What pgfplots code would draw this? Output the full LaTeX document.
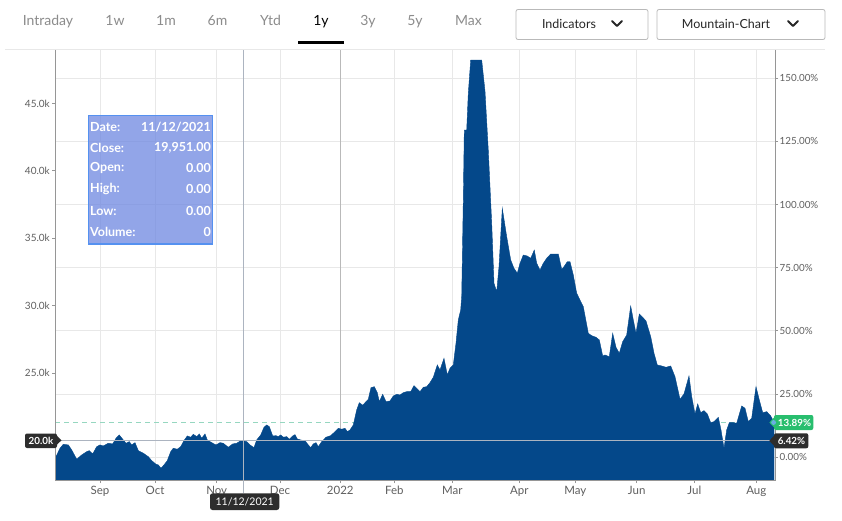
\documentclass[border=0pt]{standalone}
\usepackage{pgfplots}
\pgfplotsset{compat=1.18}
\usepackage{fontspec}
\setmainfont{Lato}
\definecolor{areablue}{RGB}{4,72,138}
\definecolor{gridgray}{RGB}{232,232,232}
\definecolor{axisgray}{RGB}{150,150,150}
\definecolor{ticktext}{RGB}{95,95,95}
\definecolor{labeldark}{RGB}{45,45,45}
\definecolor{greenlab}{RGB}{40,190,110}
\definecolor{dashmint}{RGB}{150,215,192}
\definecolor{tipfill}{RGB}{110,135,225}
\definecolor{tipborder}{RGB}{85,145,240}
\definecolor{navgray}{RGB}{140,140,140}
\definecolor{cross}{RGB}{172,180,192}
\begin{document}
\begin{tikzpicture}
\fill[white] (0,0) rectangle (842bp,-521bp);
% percent axis: horizontal grid + right ticks
\begin{axis}[at={(55bp,-480bp)}, anchor=south west, scale only axis,
  width=720bp, height=430bp,
  xmin=55, xmax=775, ymin=-9.052, ymax=161.16,
  axis line style={draw=none}, xtick=\empty,
  scaled ticks=false,
  ytick={0,25,50,75,100,125,150},
  yticklabels={0.00\%,25.00\%,50.00\%,75.00\%,100.00\%,125.00\%,150.00\%},
  ytick pos=right, yticklabel pos=right,
  ymajorgrids, grid style={gridgray, line width=0.7bp},
  major tick length=3bp, tick align=outside,
  tick style={axisgray, line width=0.7bp},
  yticklabel style={font=\fontsize{9.8bp}{11bp}\selectfont, text=ticktext, inner sep=1.5bp},
]
\end{axis}
% main axis
\begin{axis}[at={(55bp,-480bp)}, anchor=south west, scale only axis,
  width=720bp, height=430bp,
  xmin=55, xmax=775, ymin=17050, ymax=48960,
  axis line style={draw=none},
  scaled ticks=false,
  xtick={100,155,216.7,280,340.3,394.3,452.3,519.3,575.3,636.7,694.3,756.3},
  xticklabels={Sep,Oct,Nov,Dec,2022,Feb,Mar,Apr,May,Jun,Jul,Aug},
  ytick={20000,25000,30000,35000,40000,45000},
  yticklabels={{},25.0k,30.0k,35.0k,40.0k,45.0k},
  tick pos=left,
  xmajorgrids, grid style={gridgray, line width=0.7bp},
  major tick length=3bp, tick align=outside,
  tick style={axisgray, line width=0.7bp},
  yticklabel style={font=\fontsize{10bp}{11bp}\selectfont, text=ticktext, inner sep=2bp},
  xticklabel style={font=\fontsize{11.5bp}{13bp}\selectfont, text=ticktext},
]
\addplot[draw=gray!55, line width=0.8bp, forget plot] coordinates {(340.3,17050) (340.3,48960)};
\addplot[draw=dashmint, line width=1bp, dash pattern=on 5bp off 4bp, forget plot] coordinates {(55,21351) (775,21351)};
\addplot[fill=areablue, draw=areablue, line width=0.4bp] coordinates {
(55,18687) (56,18783) (60,19407) (63.3,19703) (68.3,19651) (71.7,19280) (76.7,18591) (81.7,18910) (86.7,19154) (89.3,19229) (92.7,18984) (96.7,19525) (100,19651) (103.3,19577) (108.3,19777) (112.7,19726) (116,20148) (119.3,20393) (122.7,20074) (126,19777) (129.3,19896) (131.7,19651) (135,19822) (138.3,19229) (143.3,19036) (148.3,18783) (151.7,18487) (156,18220) (158.3,18168) (161,17923) (164,18168) (167.3,18487) (170.7,19154) (173.3,19407) (177.3,19332) (180.7,19525) (184,19970) (187.3,20319) (190.7,20223) (193.3,20445) (196.7,20267) (199.3,20467) (201.7,20148) (205,20467) (207.3,20022) (211.7,19822) (216,19651) (220,19822) (223.3,19777) (228.3,19481) (232.7,19726) (236.7,19777) (240.7,19970) (243.3,19951) (246.7,19896) (250,19651) (254,19451) (256.7,20022) (260.7,20393) (264,20964) (266.7,21135) (269.3,21009) (272.7,20319) (276,20341) (278.3,20267) (280.7,20393) (283.3,20223) (286.7,20267) (289.3,20074) (292.7,20319) (295,20415) (297.3,20096) (300.7,20022) (305,19970) (308.3,19651) (310.7,19451) (313.3,19726) (316,19822) (318.3,19525) (321.7,19896) (326,20223) (330.7,20341) (335,20638) (338.3,20890) (341.7,20816) (345,20890) (347.3,20638) (350,20764) (353.3,21135) (356.7,22248) (359.3,22789) (362.7,22596) (366,22863) (368.3,23041) (371,23902) (374.3,23976) (377.3,23531) (379.3,22863) (382.7,23412) (386,22863) (390,22915) (393.3,23286) (396.7,23412) (400,23360) (403.3,23531) (406.7,23605) (410.7,23605) (414,24050) (416.7,23857) (420,23605) (423.3,23932) (426.7,23976) (430,24273) (433.3,24673) (437.3,25586) (440,25215) (444,26083) (447.3,24844) (450,25341) (453.3,25586) (456,27195) (458.3,28924) (460.7,29666) (461.7,30652) (463.3,37826) (464.3,43018) (466.7,43018) (468.3,45740) (470.7,48211) (481.7,48211) (485,45900) (488.3,41500) (491.7,36097) (494,31646) (496.7,31023) (499,32878) (502.3,37210) (506.7,35103) (510.7,33375) (514,32759) (517.3,32388) (520,33130) (523.3,33746) (527.3,33671) (530.7,33501) (534.3,34116) (536.7,33130) (540,32633) (543.3,33130) (546.7,33501) (550.7,33820) (555,33820) (558.3,33820) (561.7,32685) (564,32878) (567.3,33249) (570,33249) (573.3,32262) (576.7,30904) (580,30408) (583.3,29910) (588.3,27937) (591.7,27759) (596,27641) (599.3,27440) (602.7,26253) (605,26328) (609.3,26201) (612.7,27937) (616,26899) (619.3,26454) (622.7,27314) (626.7,27811) (630.7,29962) (633.3,28924) (636,27937) (639.3,29369) (642.7,29124) (646,28850) (650.7,27685) (654,26454) (657.3,25586) (661.7,25512) (666,25415) (670.7,25512) (675,24718) (680,23041) (684,23435) (689,24770) (691.7,23234) (695,21951) (697.7,22693) (700.7,22047) (704,22196) (707.3,21951) (710.7,21306) (714,21380) (718.3,21706) (721,20764) (724,19407) (726.7,20764) (729.3,21306) (733.3,21306) (736.7,21261) (741.7,22544) (745,22374) (748.3,21380) (751.7,21632) (756,23976) (759.3,22989) (762.7,22047) (766.7,22122) (770.7,21803) (774,21351)
} \closedcycle;
\end{axis}
\begin{scope}[x=1bp,y=-1bp]
% top separator
\draw[gridgray, line width=0.8] (5,49.3) -- (825,49.3);
% axis lines
\draw[axisgray, line width=0.8] (55,50) -- (55,480) -- (775,480) -- (775,50);
% crosshair
\draw[cross, line width=0.8] (243.3,50) -- (243.3,493);
\draw[cross, line width=0.8] (57,440.3) -- (775,440.3);
% toolbar
\begin{scope}[every node/.style={anchor=base, font=\fontsize{14bp}{16bp}\selectfont, text=navgray, inner sep=0pt}]
\node at (48,25) {Intraday};
\node at (115,25) {1w};
\node at (166,25) {1m};
\node at (217.5,25) {6m};
\node at (270.5,25) {Ytd};
\node[text=black] at (321,25) {1y};
\node at (368,25) {3y};
\node at (415,25) {5y};
\node at (468.5,25) {Max};
\end{scope}
\fill[black] (297.5,41) rectangle (343.5,43.5);
\draw[gray!55, line width=0.8, rounded corners=2] (516,9.5) rectangle (648,39.5);
\draw[gray!55, line width=0.8, rounded corners=2] (657,9.5) rectangle (825,39.5);
\node[anchor=base, font=\fontsize{12.5bp}{14bp}\selectfont, text=black!85, inner sep=0pt] at (569,28.8) {Indicators};
\node[anchor=base, font=\fontsize{12.5bp}{14bp}\selectfont, text=black!85, inner sep=0pt] at (726,28.8) {Mountain-Chart};
\draw[black!85, line width=2, line cap=round, line join=round] (612,21) -- (617,26) -- (622,21);
\draw[black!85, line width=2, line cap=round, line join=round] (788,21) -- (793,26) -- (798,21);
% tooltip
\fill[tipfill, fill opacity=0.75] (88.3,115.3) rectangle (212.7,244);
\draw[tipborder, line width=1.4] (88.3,115.3) rectangle (212.7,244);
\begin{scope}[every node/.style={font=\bfseries\fontsize{12.5bp}{14bp}\selectfont, text=white, inner sep=0pt}]
\node[anchor=west] at (90,126.7) {Date:};
\node[anchor=east] at (211,126.7) {11/12/2021};
\node[anchor=west] at (90,147.7) {Close:};
\node[anchor=east] at (211,147.7) {19,951.00};
\node[anchor=west] at (90,168.3) {Open:};
\node[anchor=east] at (211,168.3) {0.00};
\node[anchor=west] at (90,189.3) {High:};
\node[anchor=east] at (211,189.3) {0.00};
\node[anchor=west] at (90,210.7) {Low:};
\node[anchor=east] at (211,210.7) {0.00};
\node[anchor=west] at (90,231.7) {Volume:};
\node[anchor=east] at (211,231.7) {0};
\end{scope}
% left value label
\fill[labeldark, rounded corners=2] (25,433.5) rectangle (57,448);
\fill[labeldark] (56,435) -- (61.5,440.3) -- (56,445.6) -- cycle;
\node[font=\bfseries\fontsize{9.8bp}{11bp}\selectfont, text=white, inner sep=0pt] at (41,440.8) {20.0k};
% right labels
\fill[greenlab, rounded corners=2] (774,415) rectangle (813.3,430);
\fill[greenlab] (775,416.5) -- (769.3,422.5) -- (775,428.5) -- cycle;
\fill[cyan!70!blue!60] (773.6,422.5) circle (2.4);
\node[font=\bfseries\fontsize{9.8bp}{11bp}\selectfont, text=white, inner sep=0pt] at (794.5,423) {13.89\%};
\fill[labeldark, rounded corners=2] (774,433.3) rectangle (808.3,448.3);
\fill[labeldark] (775,434.8) -- (769.3,440.8) -- (775,446.8) -- cycle;
\node[font=\bfseries\fontsize{9.8bp}{11bp}\selectfont, text=white, inner sep=0pt] at (791.5,441.2) {6.42\%};
% date label
\fill[labeldark, rounded corners=2.5] (210,493.3) rectangle (279.3,510);
\node[font=\fontsize{10.5bp}{12bp}\selectfont, text=white, inner sep=0pt] at (244.7,501.9) {11/12/2021};
\end{scope}
\end{tikzpicture}
\end{document}
